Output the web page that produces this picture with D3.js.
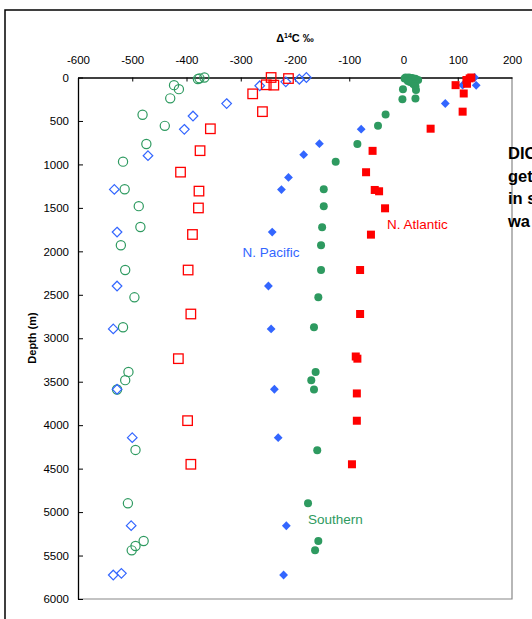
<!DOCTYPE html>
<html>
<head>
<meta charset="utf-8">
<script src="https://cdn.jsdelivr.net/npm/d3@7"></script>
<style>
  html, body { margin: 0; padding: 0; background: #fff; }
  svg { display: block; font-family: Arial, "Liberation Sans", sans-serif; }
</style>
</head>
<body>
<svg id="chart" width="532" height="619"></svg>
<script>
// Δ14C (‰) versus depth (m); pairs are [d14c, depth]
const southernOld = [[-367,0],[-376,10],[-379,18],[-423,88],[-414,134],[-430,240],[-481,428],[-440,556],
  [-474,765],[-517,968],[-514,1286],[-488,1480],[-485,1720],[-521,1930],[-513,2215],[-496,2529],
  [-517,2874],[-507,3387],[-513,3482],[-528,3590],[-494,4285],[-508,4899],[-479,5333],[-494,5390],[-501,5440]];
const pacificOld = [[-179,0],[-192,20],[-217,50],[-265,95],[-326,300],[-388,443],[-404,596],[-471,900],
  [-533,1288],[-528,1778],[-528,2399],[-535,2893],[-528,3587],[-500,4144],[-502,5156],[-535,5724],[-520,5705]];
const atlanticOld = [[-244,0],[-212,12],[-253,84],[-239,88],[-278,188],[-260,393],[-356,590],[-375,842],
  [-411,1089],[-377,1307],[-378,1501],[-389,1806],[-397,2215],[-392,2721],[-415,3235],[-398,3948],[-392,4450]];
const pacificNew = [[131,0],[109,88],[134,90],[77,299],[-78,594],[-155,761],[-184,888],[-212,1150],
  [-225,1290],[-242,1779],[-249,2399],[-244,2893],[-238,3587],[-231,4144],[-216,5157],[-221,5724]];
const southernNew = [[4,0],[10,0],[16,5],[22,15],[27,30],[2,12],[12,52],[18,76],[22,100],[8,40],
  [-1,134],[23,144],[-2,250],[22,242],[-33,426],[-47,556],[-85,764],[-125,970],[-147,1287],[-147,1482],
  [-150,1722],[-152,1931],[-152,2215],[-157,2529],[-165,2874],[-162,3388],[-170,3482],[-165,3590],
  [-159,4289],[-176,4899],[-157,5333],[-163,5440]];
const atlanticNew = [[125,0],[122,10],[116,29],[117,72],[96,88],[111,184],[109,393],[50,589],[-57,844],
  [-69,1090],[-53,1294],[-45,1309],[-34,1505],[-60,1808],[-80,2215],[-80,2721],[-88,3210],[-85,3235],
  [-86,3635],[-86,3949],[-95,4450]];

const xTicks = [-600,-500,-400,-300,-200,-100,0,100,200];
const yTicks = [0,500,1000,1500,2000,2500,3000,3500,4000,4500,5000,5500,6000];

const GREEN = "#2e9a60", BLUE = "#3366ff", RED = "#ff0000";

const svg = d3.select("#chart");

// outer frame
svg.append("path").attr("d", "M5,619V10H532")
  .attr("fill", "none").attr("stroke", "#000").attr("stroke-width", 1.5);

const x = d3.scaleLinear().domain([-600, 200]).range([78, 512]);
const y = d3.scaleLinear().domain([0, 6000]).range([77.5, 599]);

// right and bottom plot border
svg.append("path")
  .attr("d", `M${x(-600)},${y(6000)}H${x(200)}V${y(0)}`)
  .attr("fill", "none").attr("stroke", "#888").attr("stroke-width", 1.2);

const plain = d => String(d);
const topAxis = svg.append("g").attr("transform", `translate(0,${y(0)})`)
  .call(d3.axisTop(x).tickValues(xTicks).tickFormat(plain)
    .tickSizeInner(-4).tickSizeOuter(0).tickPadding(13.5));
const leftAxis = svg.append("g").attr("transform", `translate(${x(-600)},0)`)
  .call(d3.axisLeft(y).tickValues(yTicks).tickFormat(plain)
    .tickSizeInner(-5).tickSizeOuter(0).tickPadding(9));

[topAxis, leftAxis].forEach(g => {
  g.selectAll(".domain").attr("stroke", "#000").attr("stroke-width", 1.3);
  g.selectAll(".tick line").attr("stroke", "#000").attr("stroke-width", 1);
  g.selectAll(".tick text").attr("fill", "#000")
    .style("font-size", "11.5px").style("font-family", "Arial, 'Liberation Sans', sans-serif");
});
topAxis.select(".tick:last-of-type line").remove();

// axis titles
const xt = svg.append("text").attr("x", 295).attr("y", 42).attr("text-anchor", "middle")
  .style("font-size", "11px").style("font-weight", "bold");
xt.append("tspan").text("Δ");
xt.append("tspan").attr("dy", -4).style("font-size", "7px").text("14");
xt.append("tspan").attr("dy", 4).text("C ‰");

svg.append("text").attr("transform", "translate(36,338) rotate(-90)")
  .attr("text-anchor", "middle").style("font-size", "11px").style("font-weight", "bold")
  .text("Depth (m)");

const plot = svg.append("g");

function circles(data, color, r, filled) {
  plot.selectAll(null).data(data).enter().append("circle")
    .attr("cx", d => x(d[0])).attr("cy", d => y(d[1])).attr("r", r)
    .attr("fill", filled ? color : "none").attr("stroke", filled ? "none" : color)
    .attr("stroke-width", 1.2);
}
function squares(data, color, s, filled) {
  plot.selectAll(null).data(data).enter().append("rect")
    .attr("x", d => x(d[0]) - s / 2).attr("y", d => y(d[1]) - s / 2)
    .attr("width", s).attr("height", s)
    .attr("fill", filled ? color : "none").attr("stroke", filled ? "none" : color)
    .attr("stroke-width", 1.3);
}
function diamonds(data, color, h, filled) {
  plot.selectAll(null).data(data).enter().append("path")
    .attr("d", d => {
      const cx = x(d[0]), cy = y(d[1]);
      return `M${cx},${cy - h}L${cx + h},${cy}L${cx},${cy + h}L${cx - h},${cy}Z`;
    })
    .attr("fill", filled ? color : "none").attr("stroke", filled ? "none" : color)
    .attr("stroke-width", 1.2);
}

circles(southernOld, GREEN, 4.6, false);
diamonds(pacificOld, BLUE, 4.8, false);
squares(atlanticOld, RED, 9.5, false);
circles(southernNew, GREEN, 4, true);
diamonds(pacificNew, BLUE, 4.4, true);
squares(atlanticNew, RED, 8, true);

// series labels
const labels = [
  { t: "N. Atlantic", x: 387, y: 229, c: RED },
  { t: "N. Pacific", x: 242.5, y: 256.5, c: BLUE },
  { t: "Southern", x: 308, y: 524, c: GREEN }
];
svg.selectAll(null).data(labels).enter().append("text")
  .attr("x", d => d.x).attr("y", d => d.y).attr("fill", d => d.c)
  .style("font-size", "13.5px").text(d => d.t);

// side note, running past the right edge of the frame
const note = ["DIC", "gets", "in s", "wa"];
svg.selectAll(null).data(note).enter().append("text")
  .attr("x", 508).attr("y", (d, i) => 159 + i * 22.5)
  .style("font-size", "16.5px").style("font-weight", "bold").attr("fill", "#000")
  .text(d => d);
</script>
</body>
</html>
